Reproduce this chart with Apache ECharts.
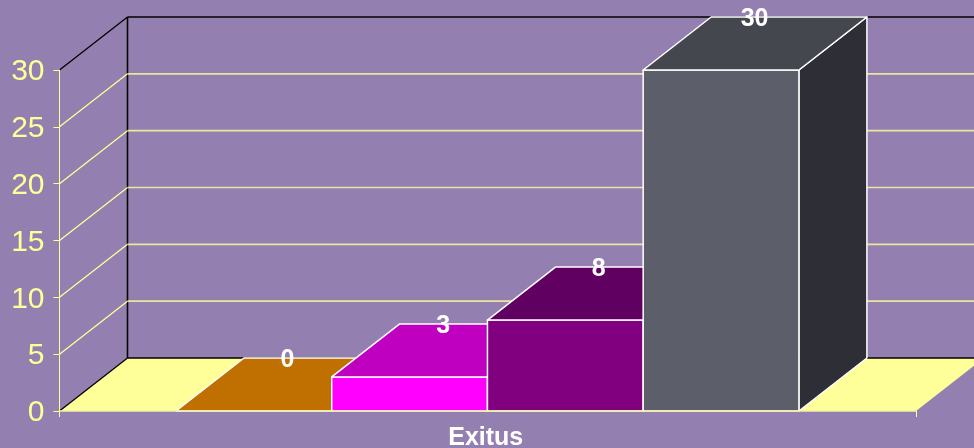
<!DOCTYPE html>
<html>
<head>
<meta charset="utf-8">
<style>html,body{margin:0;padding:0;background:#9480B0;overflow:hidden}#chart{width:974px;height:448px}</style>
<script src="https://cdn.jsdelivr.net/npm/echarts@6/dist/echarts.min.js"></script>
</head>
<body>
<div id="chart"></div>
<script>
// Values of the chart
const categories = ['Exitus'];
const valuesA = [0];
const valuesB = [3];
const valuesC = [8];
const valuesD = [30];
const yTicks = [0, 5, 10, 15, 20, 25, 30];

// Oblique projection of the depth axis, in pixels
const DEPTH_X = 68;
const DEPTH_Y = -53;
const GAP_SLOTS = 0.75;
const SERIES_COUNT = 4;
const INK = '#FFFF99';
const EDGE = '#FFFFFF';
const FONT = '"Liberation Sans", Arial, sans-serif';

function quad(points, fill) {
  return {
    type: 'polygon',
    shape: { points: points },
    style: { fill: fill, stroke: EDGE, lineWidth: 1.5, lineJoin: 'round' }
  };
}

// One solid block: front face, top face, side face and its value above the back edge
function blockSeries(name, values, index, front, top, side) {
  return {
    type: 'custom',
    name: name,
    coordinateSystem: 'cartesian2d',
    z: 10 + index,
    data: values.map((v, i) => [i, v]),
    renderItem(params, api) {
      const base = api.coord([api.value(0), 0]);
      const head = api.coord([api.value(0), api.value(1)]);
      const band = api.size([1, 0])[0];
      const slot = band / (SERIES_COUNT + 2 * GAP_SLOTS);
      const x0 = base[0] - band / 2 + slot * (GAP_SLOTS + index) - 0.3;
      const x1 = x0 + slot;
      const y0 = base[1];
      const y1 = head[1];
      const children = [];
      if (y0 - y1 > 0) {
        children.push(quad([[x1, y1], [x1 + DEPTH_X, y1 + DEPTH_Y], [x1 + DEPTH_X, y0 + DEPTH_Y], [x1, y0]], side));
        children.push(quad([[x0, y1], [x1, y1], [x1, y0], [x0, y0]], front));
      }
      children.push(quad([[x0, y1], [x0 + DEPTH_X, y1 + DEPTH_Y], [x1 + DEPTH_X, y1 + DEPTH_Y], [x1, y1]], top));
      children.push({
        type: 'text',
        z2: 50,
        style: {
          x: (x0 + x1) / 2 + DEPTH_X / 2 - 0.5,
          y: y1 + DEPTH_Y + 2,
          text: String(api.value(1)),
          fill: '#FFFFFF',
          font: 'bold 25px ' + FONT,
          align: 'center',
          verticalAlign: 'middle'
        }
      });
      return { type: 'group', children: children };
    }
  };
}

// Floor parallelogram
const floorSeries = {
  type: 'custom',
  name: 'floor',
  z: 2,
  silent: true,
  data: [[0, 0]],
  renderItem(params, api) {
    const c = api.coord([0, 0]);
    const band = api.size([1, 0])[0];
    const l = c[0] - band / 2;
    const r = c[0] + band / 2;
    const y = c[1];
    return {
      type: 'polygon',
      shape: { points: [[l, y], [r, y], [r + DEPTH_X, y + DEPTH_Y], [l + DEPTH_X, y + DEPTH_Y]] },
      style: { fill: INK }
    };
  }
};

// Gridlines on the left and back walls, one per tick; first and last are the dark wall edges
const wallSeries = {
  type: 'custom',
  name: 'walls',
  z: 3,
  silent: true,
  data: yTicks.map(t => [0, t]),
  renderItem(params, api) {
    const t = api.value(1);
    const c = api.coord([0, t]);
    const band = api.size([1, 0])[0];
    const l = c[0] - band / 2;
    const r = c[0] + band / 2;
    const y = c[1];
    const dark = t === yTicks[0] || t === yTicks[yTicks.length - 1];
    const children = [
      { type: 'line', shape: { x1: l, y1: y, x2: l + DEPTH_X, y2: y + DEPTH_Y },
        style: { stroke: dark ? '#000000' : INK, lineWidth: 1.3 } },
      { type: 'line', shape: { x1: l + DEPTH_X, y1: y + DEPTH_Y, x2: r + DEPTH_X, y2: y + DEPTH_Y },
        style: { stroke: dark ? '#000000' : '#ECE59F', lineWidth: dark ? 1.4 : 1.7 } }
    ];
    if (t === yTicks[0]) {
      const top = api.coord([0, yTicks[yTicks.length - 1]])[1];
      children.push({ type: 'line', shape: { x1: l + DEPTH_X, y1: y + DEPTH_Y, x2: l + DEPTH_X, y2: top + DEPTH_Y },
        style: { stroke: '#000000', lineWidth: 1.6 } });
    }
    return { type: 'group', children: children };
  }
};

const chart = echarts.init(document.getElementById('chart'), null, { renderer: 'canvas' });
chart.setOption({
  animation: false,
  backgroundColor: '#9480B0',
  grid: { left: 59.5, right: 58, top: 70, bottom: 37, outerBoundsMode: 'none' },
  xAxis: {
    type: 'category',
    data: categories,
    z: 30,
    axisLine: { lineStyle: { color: '#F4EFA8', width: 1.6 } },
    axisTick: { show: true, length: 6, lineStyle: { color: INK, width: 1 } },
    axisLabel: { color: '#FFFFFF', fontFamily: FONT, fontWeight: 'bold', fontSize: 25, margin: 15, padding: [0, 4, 0, 0] },
    splitLine: { show: false }
  },
  yAxis: {
    type: 'value',
    min: 0,
    max: 30,
    interval: 5,
    z: 30,
    axisLine: { show: true, lineStyle: { color: INK, width: 1 } },
    axisTick: { show: true, length: 6, lineStyle: { color: INK, width: 1 } },
    axisLabel: { color: INK, fontFamily: FONT, fontSize: 30, margin: 15, verticalAlign: 'top', lineHeight: 4 },
    splitLine: { show: false }
  },
  series: [
    floorSeries,
    wallSeries,
    blockSeries('A', valuesA, 0, '#C07000', '#C07000', '#905400'),
    blockSeries('B', valuesB, 1, '#FF00FF', '#C000C0', '#900090'),
    blockSeries('C', valuesC, 2, '#800080', '#600060', '#400040'),
    blockSeries('D', valuesD, 3, '#5C5E6A', '#45474F', '#2E2E37')
  ]
});
</script>
</body>
</html>
